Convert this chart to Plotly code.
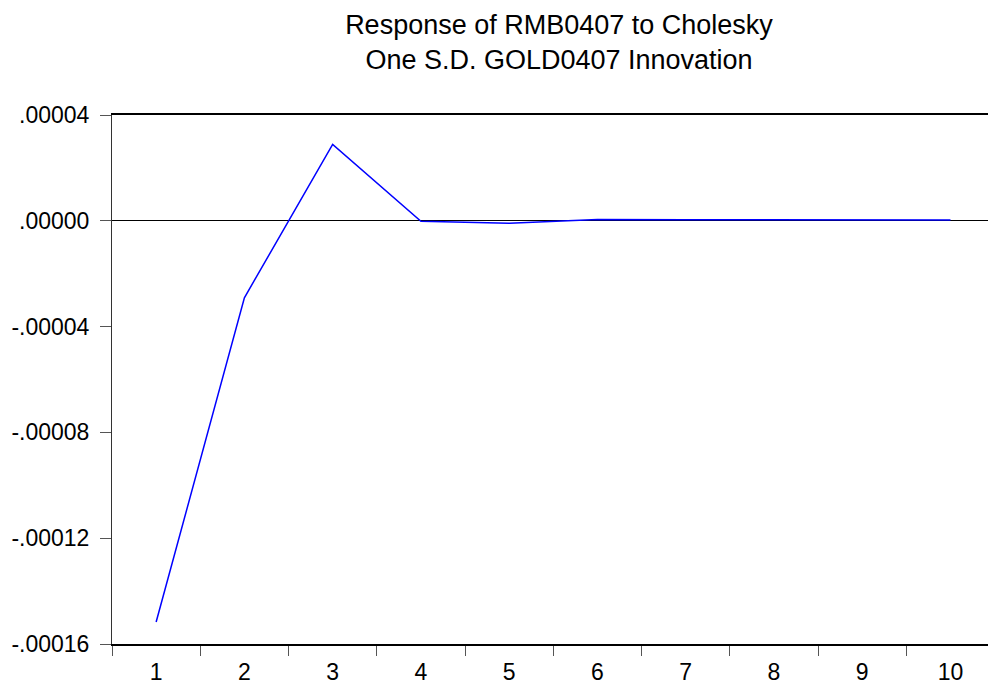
import plotly.graph_objects as go

# Impulse response of RMB0407 to a one S.D. GOLD0407 shock (Cholesky)
periods = ["1", "2", "3", "4", "5", "6", "7", "8", "9", "10"]
response = [-0.0001517, -0.0000291, 0.0000289, -0.0000002, -0.0000009,
            0.0000005, 0.0000004, 0.0000004, 0.0000003, 0.0000003]

y_tick_vals = [-0.00016, -0.00012, -0.00008, -0.00004, 0.0, 0.00004]
y_tick_text = ["-.00016", "-.00012", "-.00008", "-.00004", ".00000", ".00004"]

title_lines = ["Response of RMB0407 to Cholesky", "One S.D. GOLD0407 Innovation"]

FONT = "Liberation Sans, Arial, sans-serif"

fig = go.Figure()
fig.add_trace(go.Scatter(
    x=periods, y=response, mode="lines",
    line=dict(color="#0000FF", width=1.5),
    showlegend=False, hoverinfo="x+y",
))

fig.update_layout(
    width=988, height=687,
    margin=dict(l=112, r=0, t=115, b=43),
    paper_bgcolor="white", plot_bgcolor="white",
    font=dict(family=FONT, color="black"),
    title=dict(
        text="<br>".join(title_lines),
        font=dict(family=FONT, size=27, color="black"),
        x=559 / 988, xanchor="center", xref="container",
        y=1 - 34 / 687, yanchor="top", yref="container",
    ),
)

fig.update_xaxes(
    type="category",
    range=[-0.5, 9.425],
    tickson="boundaries",
    ticks="outside", ticklen=10, tickwidth=1, tickcolor="#555555",
    ticklabelstandoff=7,
    tickfont=dict(family=FONT, size=23, color="black"),
    showline=True, linecolor="black", linewidth=1.6, mirror=True,
    showgrid=False, zeroline=False,
    fixedrange=True,
)
fig.update_yaxes(
    range=[-0.00016, 0.00004],
    tickvals=y_tick_vals, ticktext=y_tick_text,
    ticks="outside", ticklen=11, tickwidth=1, tickcolor="#555555",
    ticklabelstandoff=6,
    tickfont=dict(family=FONT, size=23, color="black"),
    showline=True, linecolor="#333333", linewidth=1, mirror=False,
    showgrid=False,
    zeroline=True, zerolinecolor="black", zerolinewidth=1,
    fixedrange=True,
)

fig.write_html("out.html")
